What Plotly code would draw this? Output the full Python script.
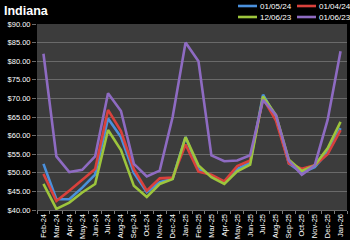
import plotly.graph_objects as go

months = ["Feb-24","Mar-24","Apr-24","May-24","Jun-24","Jul-24","Aug-24","Sep-24","Oct-24","Nov-24","Dec-24",
          "Jan-25","Feb-25","Mar-25","Apr-25","May-25","Jun-25","Jul-25","Aug-25","Sep-25","Oct-25","Nov-25","Dec-25","Jan-26"]

s_010524 = [52.4,42.9,42.9,46.0,49.5,64.6,59.6,50.0,44.8,47.5,48.4,59.6,51.0,49.3,47.5,51.0,52.8,71.0,65.0,52.5,50.0,51.5,55.5,62.0]
s_010424 = [49.7,42.4,45.2,48.0,51.0,66.9,61.2,51.0,45.2,48.5,48.7,57.6,50.3,49.5,47.7,51.8,53.3,70.0,64.0,52.5,51.1,52.0,55.0,61.5]
s_120623 = [47.0,40.3,42.0,44.7,47.0,61.5,56.1,46.5,43.5,47.0,48.3,59.6,52.0,48.8,47.0,50.4,52.2,70.5,65.5,53.5,50.5,52.0,56.6,63.7]
s_010623 = [82.0,54.4,50.2,50.8,54.4,71.4,66.6,52.4,49.0,50.6,65.0,85.0,80.0,54.7,53.1,53.3,54.7,69.6,65.5,53.3,49.5,52.0,64.2,82.7]

names = ["01/05/24", "01/04/24", "12/06/23", "01/06/23"]
colors = ["#4a90dc", "#d9413c", "#9dc53c", "#8e6bc2"]
values = [s_010524, s_010424, s_120623, s_010623]

L, R, T, B = 37, 3, 24, 30
W, H = 350, 240
PW, PH = W - L - R, H - T - B

def px(x):
    return (x - L) / PW

def py(y):
    return (H - B - y) / PH

fig = go.Figure()
for name, vals, col in zip(names, values, colors):
    fig.add_trace(go.Scatter(x=months, y=vals, name=name, mode="lines",
                             line=dict(color=col, width=2.6), showlegend=False))

# manual legend (2 rows x 2 columns)
leg_pos = [(238, 6), (297, 6), (238, 17), (297, 17)]
shapes = []
annotations = []
for (lx, ly), name, col in zip(leg_pos, names, colors):
    shapes.append(dict(type="line", xref="paper", yref="paper",
                       x0=px(lx), x1=px(lx + 19), y0=py(ly), y1=py(ly),
                       line=dict(color=col, width=2.6)))
    annotations.append(dict(text=name, xref="paper", yref="paper", x=px(lx + 20), y=py(ly),
                            xanchor="left", yanchor="middle", showarrow=False,
                            font=dict(color="white", size=8, family="Liberation Sans")))

annotations.append(dict(text="<b>Indiana</b>", x=px(2), y=py(10.5), xref="paper", yref="paper",
                        xanchor="left", yanchor="middle", showarrow=False,
                        font=dict(color="white", size=12.5, family="Liberation Sans")))

fig.update_layout(
    width=W, height=H,
    paper_bgcolor="black", plot_bgcolor="#3c3c3c",
    margin=dict(l=L, r=R, t=T, b=B, autoexpand=False),
    showlegend=False,
    shapes=shapes,
    annotations=annotations,
)
fig.update_xaxes(type="category", range=[-0.5, 23.5], tickangle=-90, showgrid=False, dtick=1,
                 tickmode="linear", tick0=0, tickson="boundaries",
                 tickfont=dict(color="white", size=7.5, family="Liberation Sans"),
                 ticks="outside", ticklen=3, tickcolor="#7a7a7a",
                 showline=True, linecolor="#6a6a6a", linewidth=1,
                 zeroline=False, automargin=False)
fig.update_yaxes(range=[40, 90], dtick=5, tickformat="$.2f", showgrid=True, gridcolor="#6a6a6a",
                 gridwidth=1, ticks="outside", ticklen=4, tickcolor="#6a6a6a",
                 tickfont=dict(color="white", size=7.5, family="Liberation Sans"),
                 zeroline=False, automargin=False)

fig.write_html("out.html")
